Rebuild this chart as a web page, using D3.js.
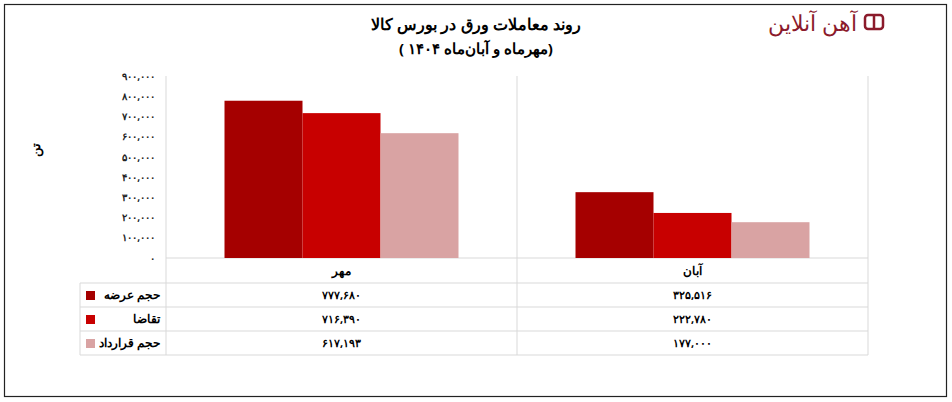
<!DOCTYPE html><html><head><meta charset="utf-8"><script src="https://cdn.jsdelivr.net/npm/d3@7"></script>
<style>body{margin:0;background:#fff;font-family:"Noto Sans",sans-serif}</style></head><body><svg id="c" width="952" height="402"></svg>
<script>
const categories=["مهر","آبان"];
const seriesNames=["حجم عرضه","تقاضا","حجم قرارداد"];
const seriesColors=["#a50000","#c80000","#d9a3a3"];
const offer=[777680,325516];
const demand=[716390,222780];
const contract=[617193,177000];
const values=[offer,demand,contract];
const tableLabels=[["۷۷۷,۶۸۰","۳۲۵,۵۱۶"],["۷۱۶,۳۹۰","۲۲۲,۷۸۰"],["۶۱۷,۱۹۳","۱۷۷,۰۰۰"]];
const yTicks=[0,100000,200000,300000,400000,500000,600000,700000,800000,900000];
const fa=n=>d3.format(",")(n).replace(/\d/g,d=>"۰۱۲۳۴۵۶۷۸۹"[d]);
const svg=d3.select("#c");
svg.append("rect").attr("x",4.5).attr("y",4.5).attr("width",942).attr("height",392).attr("fill","#fff").attr("stroke","#222").attr("stroke-width",1.2);
svg.append("text").attr("x",476).attr("y",30).attr("text-anchor","middle").attr("font-size",16).attr("font-weight","bold").text("روند معاملات ورق در بورس کالا");
svg.append("text").attr("x",476).attr("y",54).attr("text-anchor","middle").attr("font-size",15).attr("font-weight","bold").text("( مهرماه و آبان‌ماه ۱۴۰۴)");
svg.append("text").attr("x",857).attr("y",31).attr("text-anchor","end").attr("font-size",22).attr("fill","#8b1a2b").text("آهن آنلاین");
const lg=svg.append("g").attr("fill","none").attr("stroke","#8b1a2b").attr("stroke-width",2.5);
lg.append("rect").attr("x",865).attr("y",15).attr("width",18).attr("height",14).attr("rx",3);
lg.append("line").attr("x1",874).attr("y1",15).attr("x2",874).attr("y2",29);
const L=166,R=868,T=76,B=258;
const x=d3.scaleBand().domain(categories).range([L,R]);
const y=d3.scaleLinear().domain([0,900000]).range([B,T]);
const xs=d3.scaleBand().domain(seriesNames).range([0,x.bandwidth()]).paddingOuter(0.75);
svg.append("g").attr("transform",`translate(${L-8},0)`).call(d3.axisLeft(y).tickValues(yTicks).tickFormat(fa).tickSize(0))
 .call(g=>{g.select(".domain").remove();g.selectAll("text").attr("font-size",10).attr("font-weight","bold").attr("fill","#222").attr("font-family","Noto Sans");});
svg.append("text").attr("transform","translate(40,150) rotate(-90)").attr("text-anchor","middle").attr("font-size",13).attr("font-weight","bold").text("تن");
[L,L+x.bandwidth(),R].forEach(v=>svg.append("line").attr("x1",v).attr("x2",v).attr("y1",T).attr("y2",355).attr("stroke","#d9d9d9"));
svg.append("line").attr("x1",L).attr("x2",R).attr("y1",B).attr("y2",B).attr("stroke","#d9d9d9");
seriesNames.forEach((s,i)=>{
 svg.append("g").selectAll("rect").data(categories).join("rect")
  .attr("x",c=>x(c)+xs(s)).attr("width",xs.bandwidth()).attr("y",(c,j)=>y(values[i][j])).attr("height",(c,j)=>B-y(values[i][j])).attr("fill",seriesColors[i]);
});
const rows=[283,307,331,355];
svg.selectAll(".hl").data(rows).join("line").attr("x1",80).attr("x2",R).attr("y1",d=>d).attr("y2",d=>d).attr("stroke","#d9d9d9");
svg.append("line").attr("x1",80).attr("x2",80).attr("y1",283).attr("y2",355).attr("stroke","#d9d9d9");
categories.forEach(c=>svg.append("text").attr("x",x(c)+x.bandwidth()/2).attr("y",275).attr("text-anchor","middle").attr("font-size",12).attr("font-weight","bold").text(c));
seriesNames.forEach((s,i)=>{
 const cy=(rows[i]+rows[i+1])/2;
 svg.append("rect").attr("x",86).attr("y",cy-4).attr("width",9).attr("height",9).attr("fill",seriesColors[i]);
 svg.append("text").attr("x",160).attr("y",cy+4).attr("text-anchor","end").attr("font-size",12).attr("font-weight","bold").text(s);
 categories.forEach((c,j)=>svg.append("text").attr("x",x(c)+x.bandwidth()/2).attr("y",cy+4).attr("text-anchor","middle").attr("font-size",11).attr("font-weight","bold").text(tableLabels[i][j]));
});
</script></body></html>
